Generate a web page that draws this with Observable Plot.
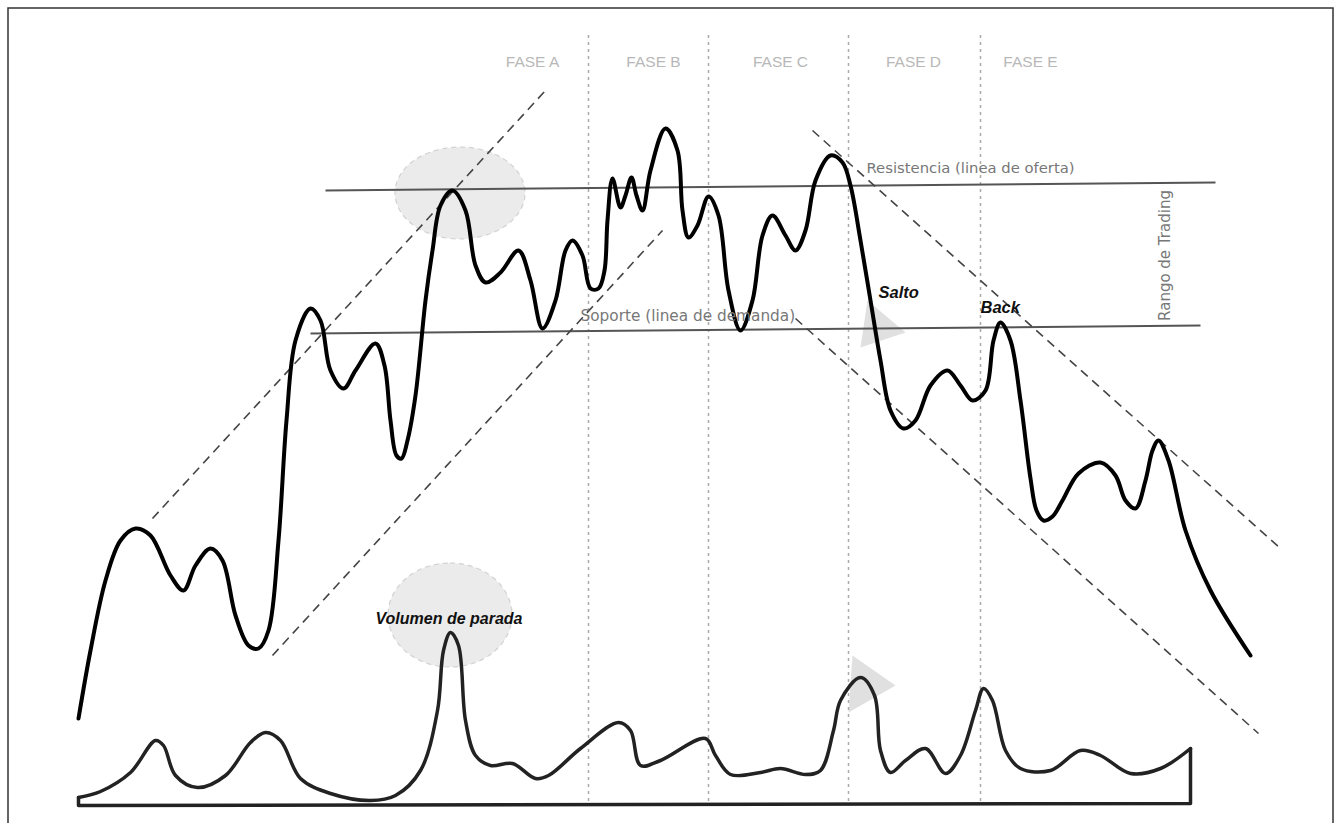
<!DOCTYPE html>
<html>
<head>
<meta charset="utf-8">
<script src="https://cdn.jsdelivr.net/npm/d3@7"></script>
<script src="https://cdn.jsdelivr.net/npm/@observablehq/plot@0.6"></script>
<style>
  html, body { margin: 0; padding: 0; background: #fff; }
  #chart svg { display: block; }
</style>
</head>
<body>
<div id="chart"></div>
<script>
// Price path (time, level)
const priceX = [78,90,105,120,135,150,170,183,195,210,222,235,248,258,268,278,286,295,310,320,330,343,355,375,384,390,396,401,407,415,425,432,440,452,465,475,485,500,518,530,542,555,565,572,582,590,598,604,607,612,620,625,631,636,642,650,665,677,682,688,697,708,718,728,740,752,762,772,785,795,805,815,830,842,850,860,870,880,890,903,915,930,947,960,972,985,993,1000,1010,1020,1030,1036,1043,1052,1062,1078,1100,1115,1125,1135,1145,1152,1158,1168,1185,1210,1250];
const priceY = [718,650,580,540,528,535,575,590,565,548,560,615,645,648,630,540,420,340,308,320,370,388,370,343,365,420,455,458,440,395,300,250,205,190,210,265,282,272,250,280,328,300,250,240,255,288,288,270,220,178,207,195,177,195,210,170,128,150,210,237,225,196,215,290,330,300,235,215,235,250,230,180,155,162,185,240,300,360,410,428,420,385,370,385,400,390,340,322,340,400,478,510,520,516,500,473,462,475,500,508,480,450,440,460,530,590,655];

// Volume path
const volX = [78,100,130,155,163,175,197,225,250,265,280,300,330,370,395,420,437,443,450,458,465,475,490,512,535,548,580,618,630,640,660,705,715,730,760,780,805,820,833,840,860,874,880,890,905,925,945,960,975,983,992,1005,1020,1050,1080,1100,1130,1160,1190];
const volY = [797,791,772,740,745,775,787,775,742,732,740,778,793,800,795,770,710,650,632,645,720,755,765,763,778,775,748,722,730,765,760,738,755,774,772,768,774,770,730,700,677,695,750,772,760,748,773,755,710,688,700,750,768,770,750,755,773,768,748];
const volBaseX = [78,78,1190,1190];
const volBaseY = [797,805,803,748];

// Support / resistance
const levelNames = ["Resistencia", "Soporte"];
const levelX1 = [325, 310];
const levelX2 = [1215, 1200];
const levelY1 = [190, 333];
const levelY2 = [182, 325];

// Trend channels (dashed)
const chanX1 = [152, 272, 812, 795];
const chanY1 = [518, 655, 130, 318];
const chanX2 = [545, 662, 1280, 1258];
const chanY2 = [90, 230, 548, 733];

// Phase separators and labels
const phaseBounds = [588, 708, 848, 980];
const phaseLabels = ["FASE A", "FASE B", "FASE C", "FASE D", "FASE E"];
const phaseLabelX = [532, 653, 780, 913, 1030];

// Highlight ellipses
const ellX = [460, 450];
const ellY = [193, 615];
const ellRX = [65, 62];
const ellRY = [46, 52];

// Triangles
const triSalto = [[867,300],[905,332],[860,347]];
const triVol = [[852,655],[895,685],[848,712]];

const price = priceX.map((x, i) => ({x, y: priceY[i]}));
const vol = volX.map((x, i) => ({x, y: volY[i]}));
const volBase = volBaseX.map((x, i) => ({x, y: volBaseY[i]}));
const levels = levelNames.map((n, i) => ({n, x1: levelX1[i], x2: levelX2[i], y1: levelY1[i], y2: levelY2[i]}));
const chans = chanX1.map((x1, i) => ({x1, y1: chanY1[i], x2: chanX2[i], y2: chanY2[i]}));
const phases = phaseLabels.map((t, i) => ({t, x: phaseLabelX[i]}));
const ells = ellX.map((x, i) => ({x1: x - ellRX[i], x2: x + ellRX[i], y1: ellY[i] - ellRY[i], y2: ellY[i] + ellRY[i]}));
const tris = [
  ...triSalto.map(([x, y]) => ({g: "s", x, y})),
  ...triVol.map(([x, y]) => ({g: "v", x, y}))
];

const W = 1341, H = 823;

const chart = Plot.plot({
  width: W,
  height: H,
  margin: 0,
  x: {domain: [0, W], range: [0, W], axis: null},
  y: {domain: [0, H], range: [0, H], axis: null},
  marks: [
    // frame
    Plot.rect([{x1: 8, x2: 1333, y1: 8, y2: 840}], {x1: "x1", x2: "x2", y1: "y1", y2: "y2", fill: "none", stroke: "#333", strokeWidth: 1.5}),
    // ellipses
    ...ells.map((e, i) => Plot.rect([e], {x1: "x1", x2: "x2", y1: "y1", y2: "y2", rx: ellRX[i], ry: ellRY[i], fill: "#ebebeb", stroke: "#d2d2d2", strokeWidth: 1.2, strokeDasharray: "5,4"})),
    // triangles
    Plot.line(tris, {x: "x", y: "y", z: "g", curve: "linear-closed", fill: "#e0e0e0", stroke: "none"}),
    // phase separators
    Plot.ruleX(phaseBounds, {x: d => d, y1: 35, y2: 805, stroke: "#aaa", strokeWidth: 1.5, strokeDasharray: "3,4"}),
    // phase labels
    Plot.text(phases, {x: "x", y: 62, text: "t", fill: "#b8b8b8", fontSize: 15.5, fontFamily: "Liberation Sans, Arial, sans-serif"}),
    // support/resistance
    Plot.link(levels, {x1: "x1", y1: "y1", x2: "x2", y2: "y2", stroke: "#555", strokeWidth: 2}),
    // channels
    Plot.link(chans, {x1: "x1", y1: "y1", x2: "x2", y2: "y2", stroke: "#444", strokeWidth: 1.6, strokeDasharray: "9,6"}),
    // volume
    Plot.line(volBase, {x: "x", y: "y", stroke: "#222", strokeWidth: 3.5, curve: "linear", strokeLinejoin: "round"}),
    Plot.line(vol, {x: "x", y: "y", stroke: "#222", strokeWidth: 3.5, curve: "catmull-rom"}),
    // price
    Plot.line(price, {x: "x", y: "y", stroke: "#000", strokeWidth: 4, curve: "catmull-rom"}),
    // annotations
    Plot.text([{x: 866, y: 168, t: "Resistencia (linea de oferta)"}], {x: "x", y: "y", text: "t", textAnchor: "start", fill: "#777", fontSize: 14.8, fontFamily: "DejaVu Sans, sans-serif"}),
    Plot.text([{x: 580, y: 316, t: "Soporte (linea de demanda)"}], {x: "x", y: "y", text: "t", textAnchor: "start", fill: "#777", fontSize: 15.3, fontFamily: "DejaVu Sans, sans-serif"}),
    Plot.text([{x: 1165, y: 255, t: "Rango de Trading"}], {x: "x", y: "y", text: "t", rotate: -90, fill: "#777", fontSize: 15, fontFamily: "DejaVu Sans, sans-serif"}),
    Plot.text([{x: 878, y: 292, t: "Salto"}, {x: 980, y: 307, t: "Back"}], {x: "x", y: "y", text: "t", textAnchor: "start", fill: "#111", fontSize: 16.5, fontWeight: "bold", fontStyle: "italic", fontFamily: "Liberation Sans, Arial, sans-serif"}),
    Plot.text([{x: 375, y: 618, t: "Volumen de parada"}], {x: "x", y: "y", text: "t", textAnchor: "start", fill: "#111", fontSize: 16, fontWeight: "bold", fontStyle: "italic", fontFamily: "Liberation Sans, Arial, sans-serif"})
  ]
});

document.getElementById("chart").appendChild(chart);
</script>
</body>
</html>
